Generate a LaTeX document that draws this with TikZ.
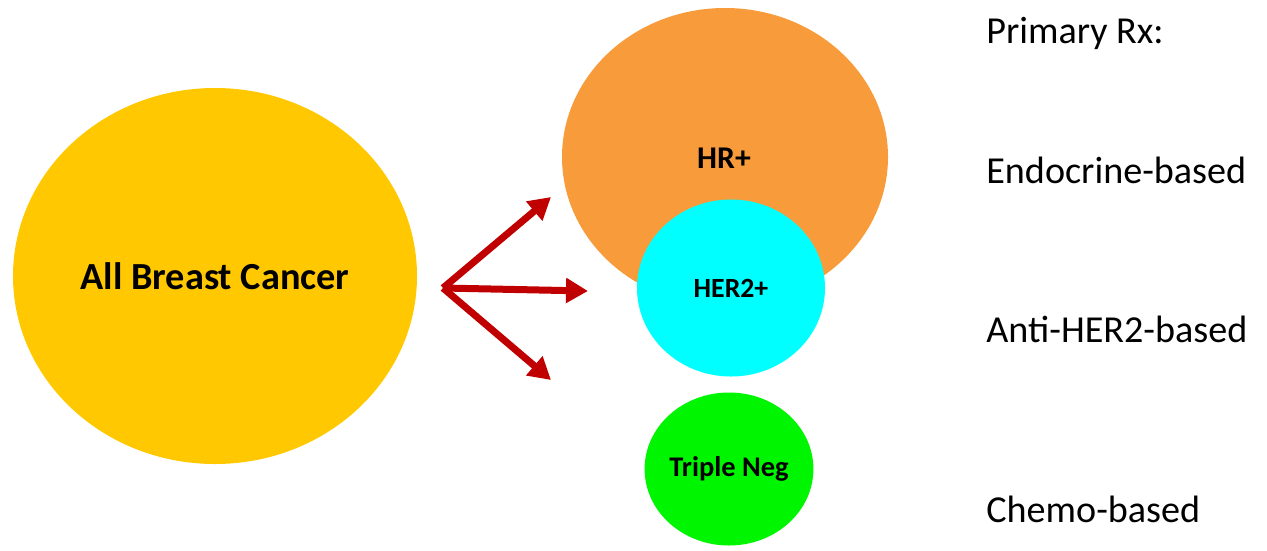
\documentclass[tikz,border=0pt]{standalone}
\usepackage{fontspec}
\setmainfont{Carlito}
\usetikzlibrary{shapes.geometric,arrows.meta}
\definecolor{allyellow}{RGB}{255,200,0}
\definecolor{hrorange}{RGB}{248,155,58}
\definecolor{hercyan}{RGB}{0,255,255}
\definecolor{tngreen}{RGB}{0,245,0}
\definecolor{arrowred}{RGB}{192,0,0}
\tikzset{
  blob/.style={ellipse,inner sep=0pt,font=\bfseries},
  subarrow/.style={arrowred,line width=1.4mm,-{Triangle[length=4.4mm,width=4.8mm]}},
  rxtext/.style={anchor=base west,inner sep=0pt,font=\fontsize{21.7}{26}\selectfont}
}

\begin{document}
\begin{tikzpicture}[x=0.2mm,y=-0.2mm]
   \useasboundingbox (0,0) rectangle (1267,550);
   \node[blob,fill=allyellow,minimum width=80.8mm,minimum height=75.2mm,font=\bfseries\fontsize{21.8}{26}\selectfont] (all) at (215,276) {All Breast Cancer};
   \node[blob,fill=hrorange,minimum width=65.2mm,minimum height=59.6mm] (hr) at (725,157) {};
   \node[font=\bfseries\fontsize{18}{22}\selectfont] (hrtext) at (724,158) {HR+};
   \node[blob,fill=hercyan,minimum width=37.6mm,minimum height=35.4mm,font=\bfseries\fontsize{15.8}{19}\selectfont] (her) at (731,288) {HER2+};
   \node[blob,fill=tngreen,minimum width=31.2mm,minimum height=30.6mm,font=\bfseries\fontsize{16.2}{19}\selectfont] (tn) at (729,469) {Triple Neg};
   \coordinate (fork) at (443,288);
   \coordinate (tohr) at (551,197);
   \coordinate (toher) at (588,291);
   \coordinate (totn) at (551,380);
   \draw[subarrow] (fork) -- (tohr);
   \draw[subarrow] (fork) -- (toher);
   \draw[subarrow] (fork) -- (totn);
   \node[rxtext] (rx) at (986,43) {Primary Rx:};
   \node[rxtext] (endo) at (986,183) {Endocrine-based};
   \node[rxtext] (anti) at (986,342) {Anti-HER2-based};
   \node[rxtext] (chemo) at (986,522) {Chemo-based};
  \end{tikzpicture}
\end{document}
